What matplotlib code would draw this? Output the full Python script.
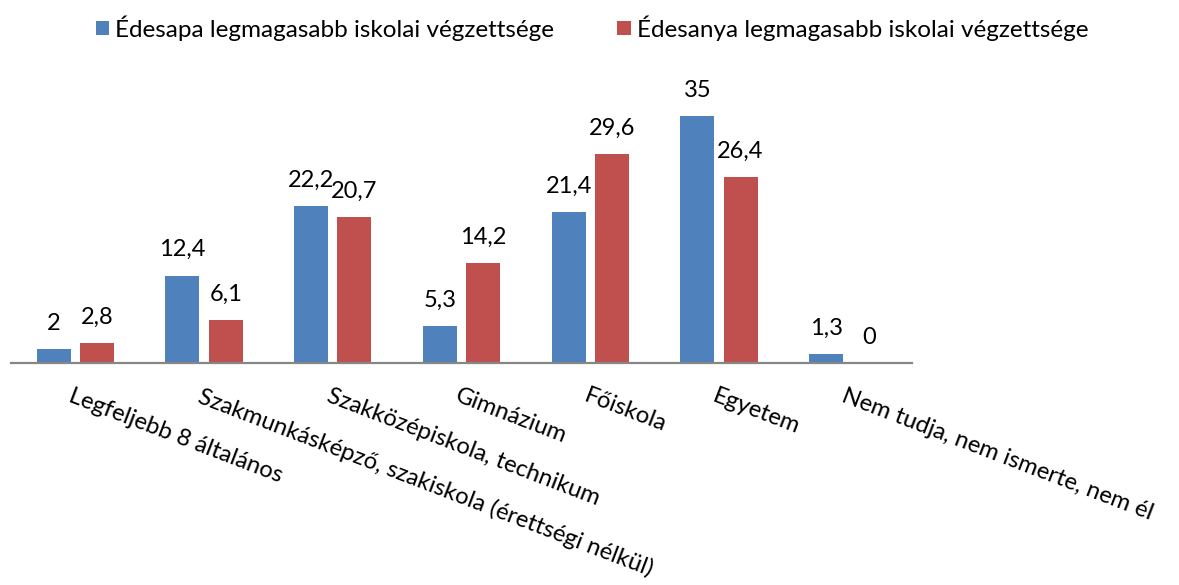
import numpy as np
import matplotlib
matplotlib.use('Agg')
import matplotlib.pyplot as plt
from matplotlib.patches import Patch

plt.rcParams['font.family'] = ['Lato', 'DejaVu Sans']

categories = ['Legfeljebb 8 általános',
              'Szakmunkásképző, szakiskola (érettségi nélkül)',
              'Szakközépiskola, technikum',
              'Gimnázium',
              'Főiskola',
              'Egyetem',
              'Nem tudja, nem ismerte, nem él']
apa = [2, 12.4, 22.2, 5.3, 21.4, 35, 1.3]
anya = [2.8, 6.1, 20.7, 14.2, 29.6, 26.4, 0]
series_names = ['Édesapa legmagasabb iskolai végzettsége',
                'Édesanya legmagasabb iskolai végzettsége']
colors = ['#4F81BD', '#C0504D']

W, H = 1179, 585
fig = plt.figure(figsize=(W / 100, H / 100), dpi=100)
ax = fig.add_axes([11 / W, 222 / H, 901 / W, 282 / H])

x = np.arange(len(categories))
bw = 0.264
off = 0.168
b1 = ax.bar(x - off, apa, bw, color=colors[0], zorder=2)
b2 = ax.bar(x + off, anya, bw, color=colors[1], zorder=2)

def fmt(v):
    return ('%g' % v).replace('.', ',')

for bars, vals in ((b1, apa), (b2, anya)):
    for r, v in zip(bars, vals):
        ax.annotate(fmt(v), (r.get_x() + r.get_width() / 2, v),
                    xytext=(0, 11), textcoords='offset points',
                    ha='center', va='bottom', fontsize=17, color='black')

ax.set_xlim(-0.5, len(categories) - 0.5)
ax.set_ylim(0, 40)
for s in ['top', 'right', 'left']:
    ax.spines[s].set_visible(False)
ax.spines['bottom'].set_color('#868686')
ax.spines['bottom'].set_linewidth(1.6)
ax.set_yticks([])
ax.set_xticks(x)
ax.set_xticklabels([])
ax.tick_params(axis='x', length=0)

for xi, lab in zip(x, categories):
    ax.annotate(lab, (xi, 0), xytext=(-1, -16), textcoords='offset points',
                rotation=-21, rotation_mode='anchor', ha='left', va='top',
                fontsize=17.2, color='black', annotation_clip=False)

handles = [Patch(facecolor=c, edgecolor='none') for c in colors]
fig.legend(handles, series_names, loc='center', bbox_to_anchor=(592 / W, 1 - 28 / H),
           ncol=2, frameon=False, fontsize=17.5, handlelength=0.55, handleheight=0.55,
           handletextpad=0.25, columnspacing=2.6)

fig.savefig('out.png', dpi=100, facecolor='white')
